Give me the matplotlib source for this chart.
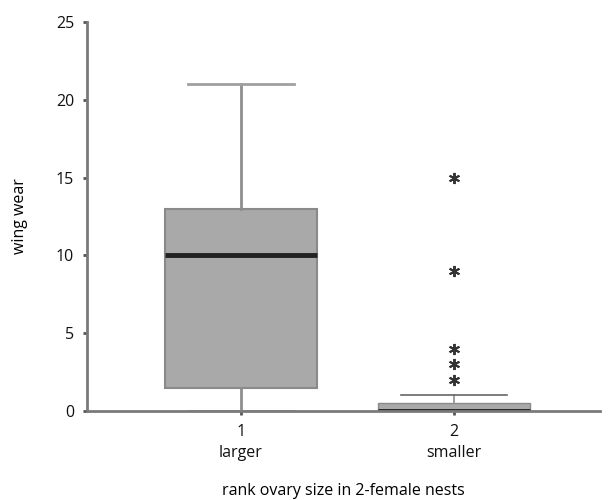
import matplotlib
matplotlib.use("Agg")
import matplotlib.pyplot as plt

# box statistics
groups = ["1\nlarger", "2\nsmaller"]
medians = [10, 0]
q1 = [1.5, 0]
q3 = [13, 0.5]
whis_low = [0, 0]
whis_high = [21, 1]
outliers = [[], [15, 9, 4, 3, 2]]

plt.rcParams['font.family'] = ['Open Sans', 'DejaVu Sans']

fig = plt.figure(figsize=(6.11, 5), dpi=100)
ax = fig.add_axes([0.142, 0.178, 0.84, 0.778])

stats = []
for i in range(len(groups)):
    stats.append({
        "med": medians[i], "q1": q1[i], "q3": q3[i],
        "whislo": whis_low[i], "whishi": whis_high[i],
        "fliers": outliers[i], "label": groups[i],
    })

parts = ax.bxp(stats, positions=[1, 2], widths=0.71, patch_artist=True,
               boxprops=dict(facecolor="#a9a9a9", edgecolor="#8a8a8a", linewidth=1.5),
               medianprops=dict(color="#222222", linewidth=3.5),
               whiskerprops=dict(color="#8e8e8e", linewidth=2),
               capprops=dict(color="#a0a0a0", linewidth=2),
               capwidths=0.5,
               flierprops=dict(marker=(6, 2, 0), markersize=8, markeredgecolor="#333333",
                               markeredgewidth=1.4, linestyle="none"))

# second box is drawn with thinner lines in the original
for c in parts["caps"][2:]:
    c.set_linewidth(1.2)
    c.set_color("#666666")
for w in parts["whiskers"][2:]:
    w.set_linewidth(1.2)
parts["boxes"][1].set_linewidth(1)

ax.set_xlim(0.277, 2.685)
ax.set_ylim(0, 25)
ax.set_yticks([0, 5, 10, 15, 20, 25])

for s in ["top", "right"]:
    ax.spines[s].set_visible(False)
for s in ["left", "bottom"]:
    ax.spines[s].set_color("#7a7a7a")
    ax.spines[s].set_linewidth(2)

ax.tick_params(axis="both", length=3, width=2, color="#555555",
               labelsize=11.5, labelcolor="#111111")
ax.tick_params(axis="y", pad=6)
ax.tick_params(axis="x", pad=6)
for lab in ax.get_xticklabels():
    lab.set_linespacing(1.45)

ax.set_ylabel("wing wear", fontsize=11.5, labelpad=20)
ax.set_xlabel("rank ovary size in 2-female nests", fontsize=11.5, labelpad=16)

fig.savefig("out.png", dpi=100)
